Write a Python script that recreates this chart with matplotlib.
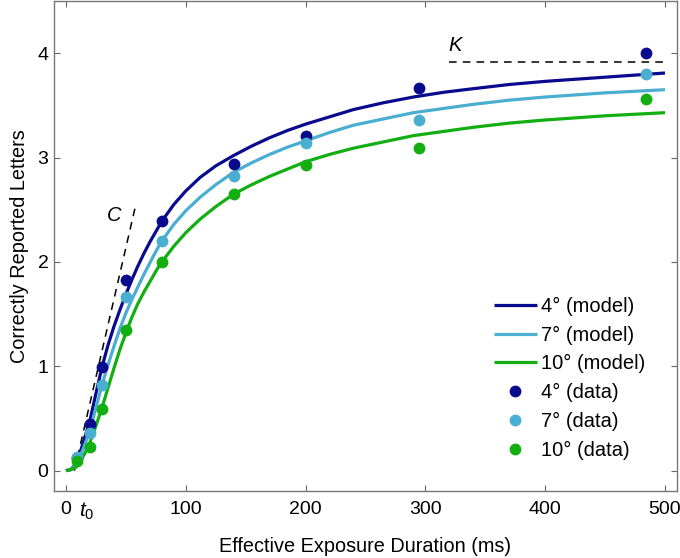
import matplotlib
matplotlib.use("Agg")
import matplotlib.pyplot as plt

plt.rcParams['font.family'] = ['Liberation Sans', 'DejaVu Sans']
plt.rcParams['mathtext.fontset'] = 'custom'
plt.rcParams['mathtext.it'] = 'Liberation Sans:italic'
plt.rcParams['mathtext.rm'] = 'Liberation Sans'

# Observed data
x_data = [9, 20, 30, 50, 80, 140, 200, 295, 484]
y_4deg = [0.12, 0.45, 0.99, 1.83, 2.39, 2.94, 3.21, 3.67, 4.00]
y_7deg = [0.13, 0.36, 0.82, 1.66, 2.20, 2.82, 3.14, 3.36, 3.80]
y_10deg = [0.09, 0.23, 0.59, 1.35, 2.00, 2.65, 2.93, 3.09, 3.56]

# Model curves
x_model = [0, 4, 8, 12, 16, 20, 25, 30, 35, 40, 45, 50, 55, 60, 65, 70, 75,
           80, 90, 100, 112, 125, 140, 155, 170, 185, 200, 220, 240, 265,
           290, 315, 340, 370, 400, 450, 500]
m_4deg = [0.00, 0.01, 0.06, 0.18, 0.33, 0.48, 0.74, 0.99, 1.20, 1.38, 1.54,
          1.69, 1.83, 1.96, 2.08, 2.19, 2.29, 2.39, 2.55, 2.68, 2.81, 2.92,
          3.02, 3.11, 3.19, 3.26, 3.32, 3.39, 3.46, 3.525, 3.58, 3.625,
          3.66, 3.70, 3.73, 3.77, 3.81]
m_7deg = [0.00, 0.01, 0.05, 0.14, 0.26, 0.39, 0.60, 0.82, 1.01, 1.19, 1.36,
          1.51, 1.64, 1.76, 1.88, 1.99, 2.10, 2.20, 2.36, 2.49, 2.62, 2.74,
          2.86, 2.95, 3.03, 3.10, 3.16, 3.24, 3.31, 3.37, 3.43, 3.47, 3.51,
          3.55, 3.58, 3.62, 3.65]
m_10deg = [0.00, 0.01, 0.03, 0.09, 0.17, 0.27, 0.43, 0.60, 0.79, 0.98, 1.16,
           1.32, 1.47, 1.60, 1.71, 1.81, 1.91, 2.00, 2.15, 2.28, 2.41, 2.53,
           2.65, 2.74, 2.82, 2.89, 2.96, 3.03, 3.09, 3.15, 3.21, 3.25, 3.29,
           3.33, 3.36, 3.40, 3.43]

# Annotation parameters
t0 = 7
t0_label_x = 17.5
C_end = (57.5, 2.51)
K = 3.92
K_start = 320

labels_model = ['4° (model)', '7° (model)', '10° (model)']
labels_data = ['4° (data)', '7° (data)', '10° (data)']
colors = ['#0a0a8f', '#4aaed0', '#12ae12']

fig = plt.figure(figsize=(6.8, 5.58), dpi=100)
ax = fig.add_axes([54/680, 1 - 491/558, 623/680, 490/558])

for ym, c, lab in zip([m_4deg, m_7deg, m_10deg], colors, labels_model):
    ax.plot(x_model, ym, color=c, lw=2.3, label=lab, zorder=2,
            solid_capstyle='butt', solid_joinstyle='round')

ax.plot([t0, C_end[0]], [0, C_end[1]], color='black', lw=1.1,
        dashes=(5, 4), zorder=1)
ax.plot([K_start, 500], [K, K], color='black', lw=1.1, dashes=(5, 4), zorder=1)

for yd, c, lab in zip([y_4deg, y_7deg, y_10deg], colors, labels_data):
    ax.plot(x_data, yd, 'o', color=c, ms=8.5, mec='none', label=lab, zorder=3)

ax.text(40, 2.44, 'C', fontsize=14.5, style='italic', ha='center', va='center')
ax.text(325, 4.07, 'K', fontsize=14.5, style='italic', ha='center', va='center')

ax.set_xlim(-10, 510)
ax.set_ylim(-0.195, 4.5)
ax.set_xticks([0, 100, 200, 300, 400, 500])
ax.set_xticks([t0_label_x], labels=['$t_0$'], minor=True)
ax.set_yticks([0, 1, 2, 3, 4])

ax.tick_params(direction='in', length=4, width=0.8, color='#666666',
               labelsize=14, top=True, right=True, labeltop=False,
               labelright=False)
ax.tick_params(axis='x', which='minor', length=0, labelsize=15, pad=7)
ax.tick_params(axis='x', which='major', pad=7)
ax.tick_params(axis='y', pad=4)
for s in ax.spines.values():
    s.set_color('#777777')
    s.set_linewidth(1.0)

ax.set_xlabel('Effective Exposure Duration (ms)', fontsize=14.3, labelpad=11)
ax.set_ylabel('Correctly Reported Letters', fontsize=14.3, labelpad=6)

ax.legend(loc='upper left', bbox_to_anchor=(0.706, 0.396), frameon=False,
          fontsize=14.5, handlelength=2.15, handletextpad=0.2,
          labelspacing=0.48, borderpad=0, borderaxespad=0)

fig.savefig('out.png', dpi=100)
